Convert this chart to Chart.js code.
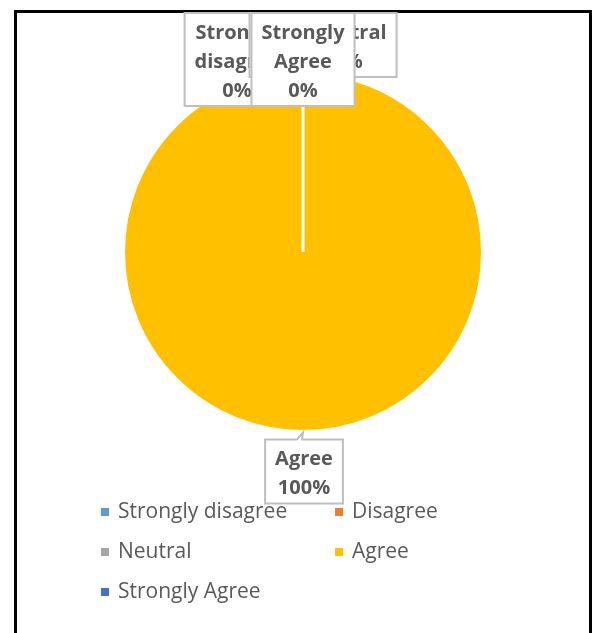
<!DOCTYPE html>
<html>
<head>
<meta charset="utf-8">
<script src="https://cdn.jsdelivr.net/npm/chart.js@4.4.1/dist/chart.umd.min.js"></script>
<style>
  html, body { margin: 0; padding: 0; background: #fff; overflow: hidden; }
  #frame { position: absolute; left: 14px; top: 10px; width: 572px; height: 640px; border: 3px solid #000; }
  #pie { position: absolute; left: 0; top: 0; }
</style>
</head>
<body>
<div id="frame"></div>
<canvas id="pie" width="592" height="633"></canvas>
<script>
// survey answers, share of respondents in %
var categories = ["Strongly disagree", "Disagree", "Neutral", "Agree", "Strongly Agree"];
var percentages = [0, 0, 0, 100, 0];
var sliceColors = ["#5B9BD5", "#ED7D31", "#A5A5A5", "#FFC000", "#4472C4"];

// where each callout box sits relative to its slice (box centre dx, box top dy)
var labelOffsets = [[-66, -60], [0, -60], [45, -60], [1, 8], [0, -60]];

var textColor = "#595959";

var calloutPlugin = {
	id: "callouts",
	afterDatasetsDraw: function(chart) {
		var ctx = chart.ctx;
		var meta = chart.getDatasetMeta(0);
		ctx.save();
		ctx.font = "bold 20px 'Open Sans'";
		ctx.textAlign = "center";
		ctx.textBaseline = "middle";
		meta.data.forEach(function(arc, i) {
			var mid = (arc.startAngle + arc.endAngle) / 2;
			var ax = arc.x + Math.cos(mid) * arc.outerRadius;
			var ay = arc.y + Math.sin(mid) * arc.outerRadius;
			var lines = categories[i].split(" ");
			lines.push(percentages[i] + "%");
			var w = 0;
			lines.forEach(function(l) { w = Math.max(w, ctx.measureText(l).width); });
			w += 20;
			var lh = 29;
			var h = lines.length * lh + 6;
			var cx = ax + labelOffsets[i][0];
			var top = Math.max(13, ay + labelOffsets[i][1]);
			var left = cx - w / 2;

			ctx.beginPath();
			ctx.moveTo(left, top);
			if (ay < top) {
				ctx.lineTo(ax - 6, top);
				ctx.lineTo(ax, ay + 1);
				ctx.lineTo(ax - 1, top);
			}
			ctx.lineTo(left + w, top);
			ctx.lineTo(left + w, top + h);
			ctx.lineTo(left, top + h);
			ctx.closePath();
			ctx.fillStyle = "#fff";
			ctx.fill();
			ctx.strokeStyle = "#BFBFBF";
			ctx.lineWidth = 2;
			ctx.stroke();

			ctx.fillStyle = textColor;
			lines.forEach(function(l, k) {
				ctx.fillText(l, cx, top + 20 + k * lh);
			});
		});
		ctx.restore();
	}
};

var legendPlugin = {
	id: "gridLegend",
	afterDraw: function(chart) {
		var ctx = chart.ctx;
		ctx.save();
		ctx.font = "21px 'Open Sans'";
		ctx.textAlign = "left";
		ctx.textBaseline = "middle";
		categories.forEach(function(c, i) {
			var x = (i % 2 === 0) ? 101 : 335;
			var y = 512 + Math.floor(i / 2) * 40;
			ctx.fillStyle = sliceColors[i];
			ctx.fillRect(x, y - 4, 8, 8);
			ctx.fillStyle = textColor;
			ctx.fillText(c, x + 17, y);
		});
		ctx.restore();
	}
};

var ctx = document.getElementById("pie");
var myChart = new Chart(ctx, {
	type: "pie",
	data: {
		labels: categories,
		datasets: [{
			data: percentages,
			backgroundColor: sliceColors,
			borderColor: "#fff",
			borderWidth: 3
		}]
	},
	options: {
		responsive: false,
		devicePixelRatio: 1,
		animation: false,
		layout: { padding: { left: 122, right: 108, top: 71, bottom: 200 } },
		plugins: {
			legend: { display: false },
			tooltip: { enabled: false }
		}
	},
	plugins: [calloutPlugin, legendPlugin]
});
</script>
</body>
</html>
